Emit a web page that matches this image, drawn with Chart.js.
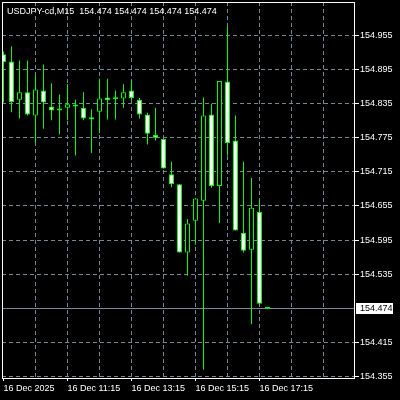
<!DOCTYPE html>
<html>
<head>
<meta charset="utf-8">
<title>USDJPY-cd M15</title>
<script src="https://cdn.jsdelivr.net/npm/chart.js@4.4.1/dist/chart.umd.min.js"></script>
<style>
    html, body { margin: 0; padding: 0; background: #000; }
    canvas { display: block; }
</style>
</head>
<body>
<canvas id="priceChart" width="400" height="400"></canvas>
<script>
// Data candle M15 (16 Dec 2025, mulai 09:15)
const symbolName = 'USDJPY-cd,M15';
const candleIndex = [0, 1, 2, 3, 4, 5, 6, 7, 8, 9, 10, 11, 12, 13, 14, 15, 16,
    17, 18, 19, 20, 21, 22, 23, 24, 25, 26, 27, 28, 29, 30, 31, 32, 33];
const openPrices = [154.922, 154.909, 154.842, 154.855, 154.814, 154.858, 154.830, 154.823, 154.828,
    154.830, 154.828, 154.811, 154.821, 154.846, 154.843, 154.844, 154.858, 154.842, 154.816,
    154.780, 154.773, 154.711, 154.693, 154.573, 154.629, 154.664, 154.816, 154.690, 154.874,
    154.770, 154.608, 154.578, 154.645, 154.474];
const highPrices = [154.927, 154.936, 154.911, 154.911, 154.885, 154.904, 154.871, 154.851, 154.869,
    154.842, 154.855, 154.825, 154.879, 154.879, 154.858, 154.869, 154.876, 154.845, 154.819,
    154.828, 154.773, 154.733, 154.693, 154.632, 154.668, 154.846, 154.835, 154.875, 154.971,
    154.814, 154.733, 154.704, 154.665, 154.474];
const lowPrices = [154.837, 154.820, 154.809, 154.814, 154.767, 154.791, 154.806, 154.781, 154.806,
    154.744, 154.806, 154.748, 154.783, 154.807, 154.807, 154.828, 154.841, 154.809, 154.763,
    154.770, 154.721, 154.688, 154.573, 154.532, 154.587, 154.367, 154.687, 154.625, 154.744,
    154.612, 154.573, 154.447, 154.480, 154.474];
const closePrices = [154.908, 154.838, 154.855, 154.816, 154.860, 154.837, 154.823, 154.825, 154.834,
    154.832, 154.809, 154.807, 154.844, 154.841, 154.844, 154.855, 154.845, 154.816, 154.782,
    154.775, 154.721, 154.693, 154.573, 154.624, 154.668, 154.814, 154.690, 154.875, 154.766,
    154.612, 154.576, 154.652, 154.483, 154.474];
const bidPrice = 154.474;

// Label sumbu
const priceTicks = [154.955, 154.895, 154.835, 154.775, 154.715, 154.655, 154.595, 154.535, 154.415, 154.355];
const timeGrid = [0, 4, 8, 12, 16, 20, 24, 28, 32, 36, 40];
const timeTicks = [0, 8, 16, 24, 32];
const timeLabels = ['16 Dec 2025', '16 Dec 11:15', '16 Dec 13:15', '16 Dec 15:15', '16 Dec 17:15'];

// Warna gaya MT4 (Green on Black)
const BAR_COLOR = '#00ff00';
const BULL_COLOR = '#000000';
const BEAR_COLOR = '#ffffff';
const GRID_COLOR = '#778899';
const FONT = { family: 'Liberation Sans', size: 9 };

Chart.defaults.font.family = FONT.family;
Chart.defaults.font.size = FONT.size;

// Background hitam + bingkai + judul + label harga bid
const mtPlugin = {
    id: 'mtDecor',
    beforeDraw(chart) {
        const ctx = chart.ctx;
        ctx.save();
        ctx.fillStyle = '#000';
        ctx.fillRect(0, 0, chart.width, chart.height);
        ctx.restore();
    },
    beforeDatasetsDraw(chart) {
        // garis harga bid
        const { ctx, chartArea } = chart;
        const y = Math.floor(chart.scales.y.getPixelForValue(bidPrice)) + 0.5;
        ctx.save();
        ctx.strokeStyle = GRID_COLOR;
        ctx.lineWidth = 1;
        ctx.beginPath();
        ctx.moveTo(chartArea.left, y);
        ctx.lineTo(chartArea.right, y);
        ctx.stroke();
        ctx.restore();
    },
    afterDraw(chart) {
        const { ctx, chartArea } = chart;
        const last = candleIndex.length - 1;
        ctx.save();
        // bingkai
        ctx.strokeStyle = '#fff';
        ctx.lineWidth = 1;
        ctx.strokeRect(chartArea.left + 0.5, chartArea.top + 0.5,
            chartArea.right - chartArea.left, chartArea.bottom - chartArea.top);

        // judul simbol + OHLC bar terakhir
        const title = symbolName + '  ' + [openPrices[last], highPrices[last], lowPrices[last], closePrices[last]]
            .map(v => v.toFixed(3)).join(' ');
        ctx.font = FONT.size + 'px "' + FONT.family + '"';
        ctx.fillStyle = '#fff';
        ctx.textBaseline = 'alphabetic';
        ctx.textAlign = 'left';
        ctx.fillText(title, chartArea.left + 5, 14);

        // kotak harga bid di sumbu kanan
        const y = Math.floor(chart.scales.y.getPixelForValue(bidPrice));
        ctx.fillStyle = '#fff';
        ctx.fillRect(chartArea.right + 2, y - 5, 37, 11);
        ctx.fillStyle = '#000';
        ctx.textBaseline = 'middle';
        ctx.fillText(bidPrice.toFixed(3), chartArea.right + 6, y + 1);
        ctx.restore();
    }
};

const wickData = candleIndex.map(i => ({ x: i, y: [lowPrices[i], highPrices[i]] }));
const bodyData = candleIndex.map(i => ({ x: i, y: [openPrices[i], closePrices[i]] }));
const bodyColors = candleIndex.map(i => closePrices[i] < openPrices[i] ? BEAR_COLOR : BULL_COLOR);

const ctx = document.getElementById('priceChart').getContext('2d');
const priceChart = new Chart(ctx, {
    type: 'bar',
    data: {
        datasets: [
            {
                label: 'Body',
                data: bodyData,
                backgroundColor: bodyColors,
                borderColor: BAR_COLOR,
                borderWidth: 1,
                borderSkipped: false,
                barThickness: 5,
                minBarLength: 2,
                inflateAmount: 0,
                grouped: false,
                order: 0
            },
            {
                label: 'Wick',
                data: wickData,
                backgroundColor: BAR_COLOR,
                borderWidth: 0,
                barThickness: 1,
                inflateAmount: 0,
                grouped: false,
                order: 1
            }
        ]
    },
    options: {
        responsive: false,
        animation: false,
        devicePixelRatio: 1,
        layout: { padding: { left: 2, top: 2, right: 0, bottom: 0 } },
        plugins: {
            legend: { display: false },
            tooltip: { enabled: false },
            title: { display: false }
        },
        scales: {
            x: {
                type: 'linear',
                min: -0.1875,
                max: 43.8125,
                offset: false,
                afterBuildTicks: scale => { scale.ticks = timeGrid.map(v => ({ value: v })); },
                afterFit: scale => { scale.height = 22; scale.paddingLeft = 0; scale.paddingRight = 0; },
                grid: {
                    offset: false,
                    lineWidth: 1,
                    color: c => (c.tick && c.tick.value === 0) ? 'transparent' : GRID_COLOR,
                    tickColor: c => (c.tick && timeTicks.includes(c.tick.value)) ? '#fff' : 'transparent',
                    tickLength: 3
                },
                border: { display: false, dash: [4, 3] },
                ticks: {
                    align: 'start',
                    autoSkip: false,
                    maxRotation: 0,
                    color: '#fff',
                    padding: 2,
                    callback: value => {
                        const idx = timeTicks.indexOf(value);
                        return idx >= 0 ? timeLabels[idx] : '';
                    }
                }
            },
            y: {
                position: 'right',
                min: 154.3523,
                max: 155.0139,
                beginAtZero: false,
                afterBuildTicks: scale => { scale.ticks = priceTicks.map(v => ({ value: v })); },
                afterFit: scale => { scale.width = 46; scale.paddingTop = 0; scale.paddingBottom = 0; },
                grid: {
                    lineWidth: 1,
                    color: GRID_COLOR,
                    tickColor: '#fff',
                    tickLength: 5
                },
                border: { display: false, dash: [4, 3] },
                ticks: {
                    color: '#fff',
                    padding: 1,
                    autoSkip: false,
                    callback: value => value.toFixed(3)
                }
            }
        }
    },
    plugins: [mtPlugin]
});
</script>
</body>
</html>
